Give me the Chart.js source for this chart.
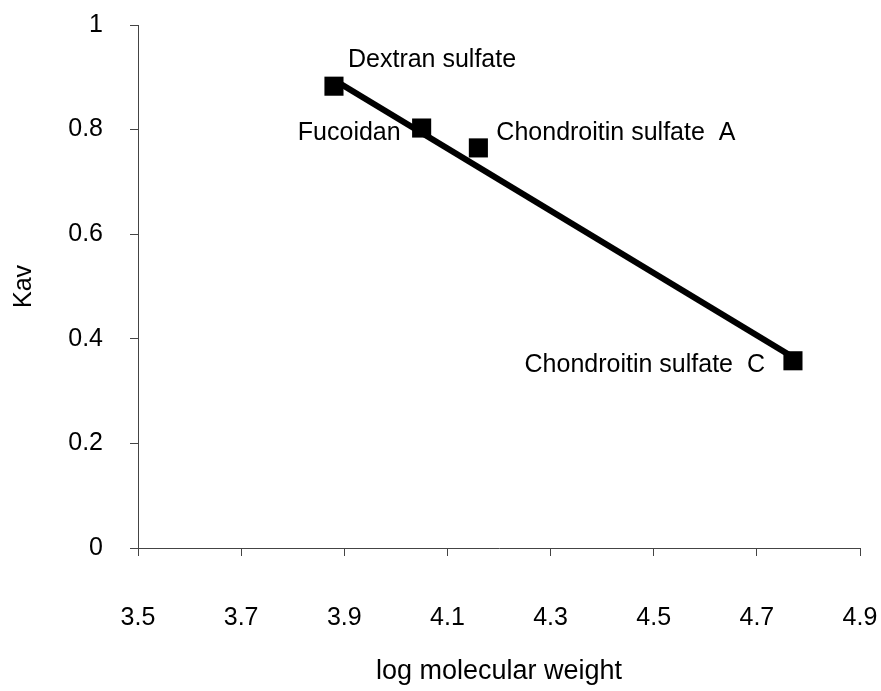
<!DOCTYPE html>
<html>
<head>
<meta charset="utf-8">
<script src="https://cdn.jsdelivr.net/npm/chart.js@4/dist/chart.umd.min.js"></script>
<style>
  html, body { margin: 0; padding: 0; background: #fff; }
  #wrap { width: 881px; height: 691px; }
</style>
</head>
<body>
<div id="wrap"><canvas id="chart1" width="881" height="691"></canvas></div>
<script>
// Sample data
const names = ['Dextran sulfate', 'Fucoidan', 'Chondroitin sulfate  A', 'Chondroitin sulfate  C'];
const logMW = [3.88, 4.05, 4.16, 4.77];
const kav = [0.883, 0.803, 0.765, 0.358];
// regression line end points
const fitX = [3.88, 4.77];
const fitY = [0.895, 0.365];

// where each name sits next to its point (pixels, align)
const labelPlace = [
    { dx: 14, dy: -26, align: 'left' },
    { dx: -21, dy: 5, align: 'right' },
    { dx: 18, dy: -15, align: 'left' },
    { dx: -28, dy: 4, align: 'right' }
];

const FONT = "'Liberation Sans', Arial, sans-serif";
const SIZE = 25;

const pointNames = {
    id: 'pointNames',
    afterDatasetsDraw(chart) {
        const ctx = chart.ctx;
        const xs = chart.scales.x, ys = chart.scales.y;
        ctx.save();
        ctx.font = SIZE + 'px ' + FONT;
        ctx.fillStyle = '#000';
        ctx.textBaseline = 'middle';
        names.forEach((n, i) => {
            const p = labelPlace[i];
            ctx.textAlign = p.align;
            ctx.fillText(n, xs.getPixelForValue(logMW[i]) + p.dx, ys.getPixelForValue(kav[i]) + p.dy);
        });
        ctx.restore();
    }
};

new Chart(document.getElementById('chart1'), {
    type: 'scatter',
    data: {
        datasets: [{
            label: 'fit',
            data: fitX.map((x, i) => ({ x: x, y: fitY[i] })),
            showLine: true,
            borderColor: '#000',
            borderWidth: 6,
            pointRadius: 0,
            order: 2
        }, {
            label: 'Kav',
            data: logMW.map((x, i) => ({ x: x, y: kav[i] })),
            pointStyle: 'rect',
            pointRadius: 13.5,
            backgroundColor: '#000',
            borderColor: '#000',
            borderWidth: 0,
            order: 1
        }]
    },
    options: {
        responsive: false,
        animation: false,
        layout: { padding: { top: 25, right: 21, left: 0, bottom: 0 } },
        plugins: {
            legend: { display: false },
            tooltip: { enabled: false }
        },
        scales: {
            x: {
                type: 'linear',
                min: 3.5,
                max: 4.9,
                afterFit: s => { s.height = 143; s.paddingLeft = 0; s.paddingRight = 0; },
                border: { display: true, color: '#444', width: 1 },
                grid: { drawOnChartArea: false, drawTicks: true, tickLength: 8, color: '#444' },
                ticks: {
                    stepSize: 0.2,
                    padding: 47,
                    color: '#000',
                    font: { size: SIZE, family: FONT },
                    callback: v => v.toFixed(1)
                },
                title: {
                    display: true,
                    text: 'log molecular weight',
                    color: '#000',
                    font: { size: 27, family: FONT },
                    padding: { top: 0, bottom: 3 }
                }
            },
            y: {
                min: 0,
                max: 1,
                afterFit: s => { s.width = 138; s.paddingTop = 0; s.paddingBottom = 0; },
                border: { display: true, color: '#444', width: 1 },
                grid: { drawOnChartArea: false, drawTicks: true, tickLength: 8, color: '#444' },
                ticks: {
                    stepSize: 0.2,
                    padding: 27,
                    color: '#000',
                    font: { size: SIZE, family: FONT },
                    callback: v => String(parseFloat(v.toFixed(1)))
                },
                title: {
                    display: true,
                    text: 'Kav',
                    color: '#000',
                    font: { size: SIZE, family: FONT },
                    padding: { top: 9, bottom: 0 }
                }
            }
        }
    },
    plugins: [pointNames]
});
</script>
</body>
</html>
